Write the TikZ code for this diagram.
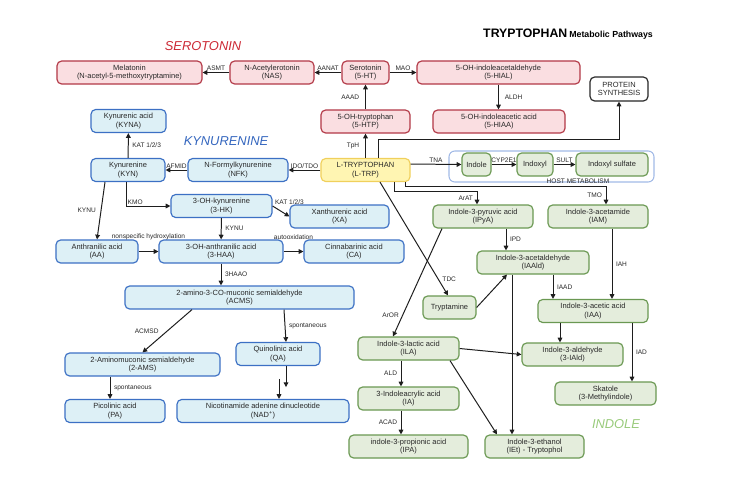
\documentclass[tikz,border=0pt]{standalone}
\usepackage{fontspec}
\setmainfont{Liberation Sans}
\usepackage{xcolor}
\usetikzlibrary{arrows.meta,calc}

\definecolor{serofill}{RGB}{250,222,225}
\definecolor{seroline}{RGB}{178,56,70}
\definecolor{serotitle}{RGB}{204,40,52}
\definecolor{kynfill}{RGB}{221,240,246}
\definecolor{kynline}{RGB}{60,112,196}
\definecolor{kyntitle}{RGB}{52,102,190}
\definecolor{indfill}{RGB}{228,237,220}
\definecolor{indline}{RGB}{106,152,82}
\definecolor{indtitle}{RGB}{152,202,122}
\definecolor{trpfill}{RGB}{255,245,178}
\definecolor{trpline}{RGB}{240,208,92}
\definecolor{hostline}{RGB}{162,186,230}
\definecolor{arrowcol}{RGB}{30,30,30}
\definecolor{txtcol}{RGB}{40,40,40}

\begin{document}
\begin{tikzpicture}[x=0.03cm,y=-0.03cm]
        % Define styles
        \tikzset{
            box/.style={rectangle, rounded corners=4pt, line width=1pt, inner sep=0pt, minimum height=0.69cm, font=\fontsize{6.4}{7.4}\selectfont, text=txtcol},
            sero/.style={box, draw=seroline, fill=serofill},
            kyn/.style={box, draw=kynline, fill=kynfill},
            ind/.style={box, draw=indline, fill=indfill},
            trpbox/.style={box, draw=trpline, fill=trpfill},
            protbox/.style={box, draw=black!85, fill=white, minimum height=0.72cm},
            hostbox/.style={rectangle, rounded corners=5pt, draw=hostline, line width=0.9pt, minimum width=6.15cm, minimum height=0.93cm},
            enz/.style={font=\fontsize{5.6}{6.4}\selectfont, text=txtcol, inner sep=1pt},
            grouptitle/.style={font=\fontsize{11}{13}\selectfont\itshape},
            arrow/.style={-{Triangle[length=4pt,width=4pt]}, line width=0.85pt, draw=arrowcol}
        }
        \useasboundingbox (0,0) rectangle (743,493);

        % Titles
        \node[anchor=west, inner sep=0pt] (main_title) at (483,34) {\fontsize{10.5}{12}\selectfont\bfseries TRYPTOPHAN\,\fontsize{7.5}{9}\selectfont Metabolic Pathways};
        \node[grouptitle, text=serotitle] (sero_title) at (203,46) {SEROTONIN};
        \node[grouptitle, text=kyntitle] (kyn_title) at (226,141) {KYNURENINE};
        \node[grouptitle, text=indtitle] (ind_title) at (616,424) {INDOLE};

        % Serotonin nodes
        \node[sero] (melatonin_node) at (129.5,72.5) {\parbox{4.35cm}{\centering Melatonin \\ (N-acetyl-5-methoxytryptamine)}};
        \node[sero] (nas_node) at (272,72.5) {\parbox{2.52cm}{\centering N-Acetylerotonin \\ (NAS)}};
        \node[sero] (serotonin_node) at (365.5,72.5) {\parbox{1.41cm}{\centering Serotonin \\ (5-HT)}};
        \node[sero] (hial_node) at (498.5,72.5) {\parbox{4.89cm}{\centering 5-OH-indoleacetaldehyde \\ (5-HIAL)}};
        \node[sero] (htp_node) at (365.5,121.5) {\parbox{2.67cm}{\centering 5-OH-tryptophan \\ (5-HTP)}};
        \node[sero] (hiaa_node) at (499,121.5) {\parbox{3.96cm}{\centering 5-OH-indoleacetic acid \\ (5-HIAA)}};
        \node[protbox] (protein_node) at (619,89) {\parbox{1.74cm}{\centering PROTEIN \\ SYNTHESIS}};

        % Kynurenine nodes
        \node[trpbox] (trp_node) at (365.5,170) {\parbox{2.67cm}{\centering L-TRYPTOPHAN \\ (L-TRP)}};
        \node[kyn] (kyna_node) at (128.5,121) {\parbox{2.25cm}{\centering Kynurenic acid \\ (KYNA)}};
        \node[kyn] (kyn_node) at (128,170) {\parbox{2.22cm}{\centering Kynurenine \\ (KYN)}};
        \node[kyn] (nfk_node) at (238,170) {\parbox{3cm}{\centering N-Formylkynurenine \\ (NFK)}};
        \node[kyn] (hk_node) at (221.5,206) {\parbox{3.03cm}{\centering 3-OH-kynurenine \\ (3-HK)}};
        \node[kyn] (xa_node) at (339.5,216.5) {\parbox{2.97cm}{\centering Xanthurenic acid \\ (XA)}};
        \node[kyn] (aa_node) at (97,251.5) {\parbox{2.46cm}{\centering Anthranilic acid \\ (AA)}};
        \node[kyn] (haa_node) at (221,251.5) {\parbox{3.72cm}{\centering 3-OH-anthranilic acid \\ (3-HAA)}};
        \node[kyn] (ca_node) at (354,251.5) {\parbox{3cm}{\centering Cinnabarinic acid \\ (CA)}};
        \node[kyn] (acms_node) at (239.5,297.5) {\parbox{6.87cm}{\centering 2-amino-3-CO-muconic semialdehyde \\ (ACMS)}};
        \node[kyn] (ams_node) at (142.5,364.5) {\parbox{4.65cm}{\centering 2-Aminomuconic semialdehyde \\ (2-AMS)}};
        \node[kyn] (qa_node) at (278,354) {\parbox{2.52cm}{\centering Quinolinic acid \\ (QA)}};
        \node[kyn] (pa_node) at (115,411) {\parbox{3cm}{\centering Picolinic acid \\ (PA)}};
        \node[kyn] (nad_node) at (263,411) {\parbox{5.16cm}{\centering Nicotinamide adenine dinucleotide \\ (NAD\textsuperscript{+})}};

        % Host metabolism
        \node[hostbox] (host_node) at (551.5,166.5) {};
        \node[enz] (host_label) at (578,181) {HOST METABOLISM};
        \node[ind] (indole_node) at (476.5,164.5) {\parbox{0.87cm}{\centering Indole}};
        \node[ind] (indoxyl_node) at (535,164.5) {\parbox{1.08cm}{\centering Indoxyl}};
        \node[ind] (indsulf_node) at (612,164.5) {\parbox{2.16cm}{\centering Indoxyl sulfate}};

        % Indole nodes
        \node[ind] (ipya_node) at (483,216.5) {\parbox{3cm}{\centering Indole-3-pyruvic acid \\ (IPyA)}};
        \node[ind] (iam_node) at (598,216.5) {\parbox{3cm}{\centering Indole-3-acetamide \\ (IAM)}};
        \node[ind] (iaald_node) at (533,262.5) {\parbox{3.36cm}{\centering Indole-3-acetaldehyde \\ (IAAld)}};
        \node[ind] (tryptamine_node) at (449.5,307.5) {\parbox{1.59cm}{\centering Tryptamine}};
        \node[ind] (iaa_node) at (593,311) {\parbox{3.3cm}{\centering Indole-3-acetic acid \\ (IAA)}};
        \node[ind] (ila_node) at (408.5,348.5) {\parbox{3.03cm}{\centering Indole-3-lactic acid \\ (ILA)}};
        \node[ind] (iald_node) at (572.5,354.5) {\parbox{3.03cm}{\centering Indole-3-aldehyde \\ (3-IAld)}};
        \node[ind] (ia_node) at (408.5,398.5) {\parbox{3.03cm}{\centering 3-Indoleacrylic acid \\ (IA)}};
        \node[ind] (skatole_node) at (605.5,393.5) {\parbox{3.03cm}{\centering Skatole \\ (3-Methylindole)}};
        \node[ind] (ipa_node) at (408.5,446.5) {\parbox{3.57cm}{\centering indole-3-propionic acid \\ (IPA)}};
        \node[ind] (iet_node) at (534.5,446.5) {\parbox{2.97cm}{\centering Indole-3-ethanol \\ (IEt) - Tryptophol}};

        % Serotonin arrows
        \draw[arrow] (nas_node) -- (melatonin_node) node[enz, midway, above] {ASMT};
        \draw[arrow] (serotonin_node) -- (nas_node) node[enz, midway, above] {AANAT};
        \draw[arrow] (serotonin_node) -- (hial_node) node[enz, midway, above] {MAO};
        \draw[arrow] (htp_node) -- (serotonin_node) node[enz, midway, left=4pt] {AAAD};
        \draw[arrow] (hial_node.south) -- (hial_node.south |- hiaa_node.north) node[enz, midway, right=4pt] {ALDH};
        \draw[arrow] (trp_node) -- (htp_node) node[enz, midway, left=4pt] {TpH};
        \draw[arrow] ($(trp_node.north)+(12.5,0)$) -- ++(0,-18) -| (protein_node.south);

        % Kynurenine arrows
        \draw[arrow] (trp_node) -- (nfk_node) node[enz, midway, above] {IDO/TDO};
        \draw[arrow] (nfk_node) -- (kyn_node) node[enz, midway, above] {AFMID};
        \draw[arrow] (kyn_node) -- (kyna_node) node[enz, midway, right=2pt] {KAT 1/2/3};
        \draw[arrow] ($(kyn_node.south)+(-2,0)$) |- (hk_node) node[enz, pos=0.5, above right] {KMO};
        \draw[arrow] ($(kyn_node.south)+(-23,0)$) -- (aa_node.north) node[enz, midway, left=3pt] {KYNU};
        \draw[arrow] (hk_node.east) -- (xa_node.west) node[enz, pos=0.05, above right] {KAT 1/2/3};
        \draw[arrow] (hk_node) -- (haa_node) node[enz, midway, right=2pt] {KYNU};
        \draw[arrow] (aa_node) -- (haa_node) node[enz, midway, above=8.5pt] {nonspecific hydroxylation};
        \draw[arrow] (haa_node) -- (ca_node) node[enz, midway, above=8.5pt] {autooxidation};
        \draw[arrow] (haa_node.south) -- (haa_node.south |- acms_node.north) node[enz, midway, right=2pt] {3HAAO};
        \draw[arrow] ($(acms_node.south)+(-47.5,0)$) -- (ams_node.north) node[enz, midway, left=6pt] {ACMSD};
        \draw[arrow] ($(acms_node.south)+(44.5,0)$) -- ($(qa_node.north)+(8,0)$) node[enz, midway, right=2pt] {spontaneous};
        \draw[arrow] ($(ams_node.south)+(-32.5,0)$) -- ($(pa_node.north)+(-5,0)$) node[enz, midway, right=2pt] {spontaneous};
        \draw[arrow] ($(qa_node.south)+(8,0)$) -- ++(0,21);
        \draw[arrow] ($(nad_node.north)+(16,-20)$) -- ($(nad_node.north)+(16,0)$);

        % Indole arrows
        \draw[arrow] ($(trp_node.east)+(0,-6)$) -- (indole_node.west) node[enz, midway, above] {TNA};
        \draw[arrow] (indole_node) -- (indoxyl_node) node[enz, midway, above] {CYP2E1};
        \draw[arrow] (indoxyl_node) -- (indsulf_node) node[enz, midway, above] {SULT};
        \draw[arrow] ($(trp_node.south)+(28.5,0)$) |- ($(ipya_node.north)+(-6,-13)$) -- ($(ipya_node.north)+(-6,0)$) node[enz, midway, left=2pt] {ArAT};
        \draw[arrow] ($(trp_node.south)+(39.5,0)$) |- ($(iam_node.north)+(8,-18)$) -- ($(iam_node.north)+(8,0)$) node[enz, midway, left=2pt] {TMO};
        \draw[arrow] ($(trp_node.south)+(14.5,0)$) -- ($(tryptamine_node.north)+(-1.5,0)$) node[enz, pos=0.86, right=2pt] {TDC};
        \draw[arrow] ($(ipya_node.south)+(-41,0)$) -- ($(ila_node.north)+(-15.5,0)$) node[enz, pos=0.8, left=2pt] {ArOR};
        \draw[arrow] ($(ipya_node.south)+(23,0)$) -- ($(iaald_node.north)+(-27,0)$) node[enz, midway, right=2pt] {IPD};
        \draw[arrow] (tryptamine_node.east) -- ($(iaald_node.south)+(-26,0)$);
        \draw[arrow] ($(iaald_node.south)+(20,0)$) -- ($(iaa_node.north)+(-40,0)$) node[enz, midway, right=2pt] {IAAD};
        \draw[arrow] ($(iaald_node.south)+(-21,0)$) -- ($(iet_node.north)+(-22.5,0)$);
        \draw[arrow] ($(iam_node.south)+(14,0)$) -- ($(iaa_node.north)+(19,0)$) node[enz, midway, right=2pt] {IAH};
        \draw[arrow] ($(iaa_node.south)+(-33,0)$) -- ($(iald_node.north)+(-12.5,0)$);
        \draw[arrow] ($(iaa_node.south)+(39,0)$) -- ($(skatole_node.north)+(26.5,0)$) node[enz, midway, right=2pt] {IAD};
        \draw[arrow] (ila_node.east) -- (iald_node.west);
        \draw[arrow] ($(ila_node.south)+(-7.5,0)$) -- ($(ia_node.north)+(-7.5,0)$) node[enz, midway, left=2pt] {ALD};
        \draw[arrow] ($(ia_node.south)+(-7.5,0)$) -- ($(ipa_node.north)+(-7.5,0)$) node[enz, midway, left=2pt] {ACAD};
        \draw[arrow] ($(ila_node.south)+(41.5,0)$) -- ($(iet_node.north)+(-37.5,0)$);
\end{tikzpicture}
\end{document}
